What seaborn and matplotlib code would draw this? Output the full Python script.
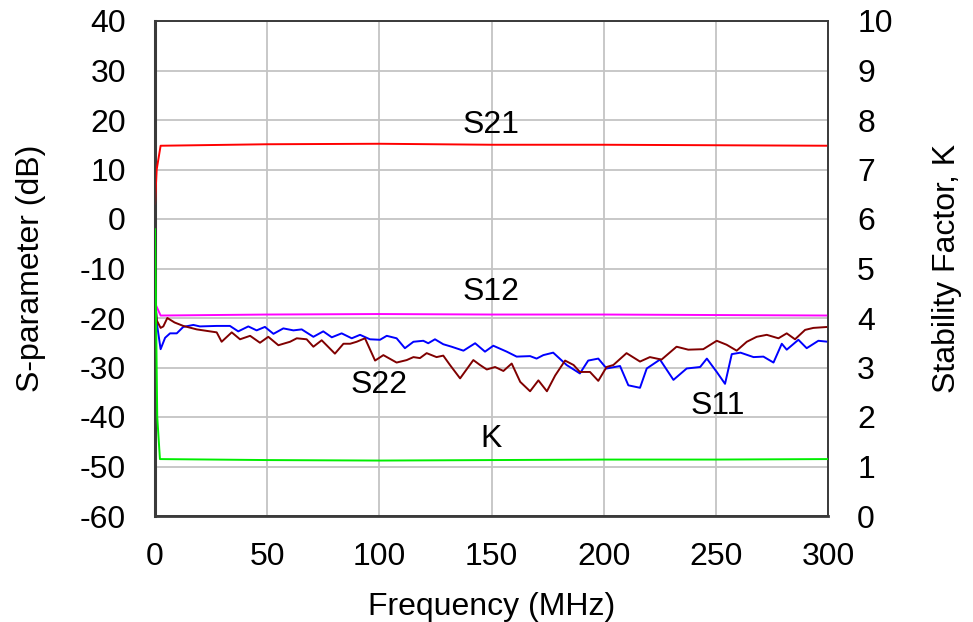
import matplotlib
matplotlib.use("Agg")
import matplotlib.pyplot as plt
import seaborn as sns
import pandas as pd

# ---------------- data ----------------
s21_f = [0, 0.75, 2.5, 50, 100, 150, 200, 250, 300]
s21_db = [3, 10, 14.8, 15.1, 15.2, 15.0, 15.0, 14.9, 14.8]

s12_f = [0, 2.5, 50, 100, 150, 200, 250, 300]
s12_db = [-17, -19.5, -19.3, -19.2, -19.3, -19.3, -19.4, -19.5]

s11_f = [0, 0.8, 2.5, 4.5, 6.7, 9.7, 12.6, 17.1, 20, 27.5, 33.4, 37.1, 41.6, 45.3, 49,
         52.8, 57.2, 61.7, 65.4, 70.6, 75, 78.8, 83.2, 87.7, 91.4, 95.8, 100.3, 103.3,
         107.7, 111.4, 115.2, 119.6, 121.8, 124.8, 128.5, 132.2, 137.5, 142.7, 147.1,
         150.8, 156.8, 161.2, 167.2, 170.1, 173.1, 177.5, 183.5, 189.4, 193.1, 197.6,
         201.3, 207.3, 211, 216.2, 219.2, 225.1, 231.1, 237, 243, 246, 250.4, 254.1,
         257.1, 261, 266.8, 271.2, 275.7, 279.4, 281.6, 286.8, 290.5, 295.7, 300]
s11_db = [-15, -21, -26.3, -24, -23.1, -23.1, -21.8, -21.4, -21.7, -21.6, -21.6, -22.7,
          -21.7, -22.5, -21.8, -23.2, -22.1, -22.5, -22.3, -23.8, -22.7, -23.9, -23.1,
          -24.1, -23.4, -24.3, -24.4, -23.6, -24.1, -26.1, -24.8, -24.6, -25.1, -24.3,
          -25.3, -25.8, -26.6, -25.1, -26.8, -25.6, -26.8, -27.8, -27.7, -28.2, -27.5,
          -27.0, -29.5, -31.2, -28.6, -28.2, -30.2, -29.7, -33.6, -34.1, -30.2, -28.4,
          -32.5, -30.2, -29.9, -28.2, -30.9, -33.3, -27.3, -27.0, -27.9, -27.8, -29.0,
          -25.2, -26.4, -24.4, -26.1, -24.6, -24.8]

s22_f = [0, 0.8, 2.5, 3.7, 5.5, 8.7, 12.6, 18.6, 24.5, 27.5, 29.7, 34.2, 37.9, 42.4,
         46.8, 50.5, 55, 60.2, 63.2, 67.6, 70.6, 74.3, 80.2, 84, 87, 89.9, 93.6, 98.1,
         101.8, 107.7, 112.2, 115.2, 118.1, 121.1, 125.5, 128.5, 131.5, 136, 141.9,
         144.9, 147.9, 151.6, 155.3, 159, 162.8, 167.2, 170.9, 174.7, 178.4, 182.8,
         186.6, 189.4, 193.9, 197.6, 201.3, 204.3, 210.2, 216.2, 220.6, 225.8, 232.5,
         237.7, 244.4, 250.4, 254.8, 259.3, 263.8, 268.2, 272.7, 277.9, 281.6, 285.3,
         289.8, 293.5, 300]
s22_db = [-16, -20.5, -22.0, -21.7, -20.0, -20.9, -21.6, -22.3, -22.7, -22.9, -24.8,
          -22.9, -24.3, -23.6, -25.0, -23.8, -25.5, -24.8, -24.1, -24.3, -25.8, -24.5,
          -27.2, -25.2, -25.2, -24.8, -24.1, -28.6, -27.5, -29.0, -28.5, -27.9, -28.1,
          -27.1, -27.9, -27.6, -29.5, -32.2, -28.5, -29.5, -30.4, -29.9, -30.7, -29.2,
          -32.9, -34.8, -32.6, -34.8, -31.6, -28.6, -29.5, -30.9, -30.9, -32.7, -29.9,
          -29.5, -27.1, -28.8, -27.9, -28.4, -25.8, -26.4, -26.3, -24.6, -25.4, -26.6,
          -24.8, -23.8, -23.4, -24.1, -23.1, -24.3, -22.4, -22.0, -21.8]

k_f = [0, 1, 2.2, 50, 100, 150, 200, 250, 300]
k_val = [5.8, 2.0, 1.15, 1.13, 1.12, 1.13, 1.14, 1.14, 1.15]

x_ticks = [0, 50, 100, 150, 200, 250, 300]
y_ticks = [-60, -50, -40, -30, -20, -10, 0, 10, 20, 30, 40]
k_ticks = [0, 1, 2, 3, 4, 5, 6, 7, 8, 9, 10]

labels = ["S21", "S12", "S22", "S11", "K"]
label_f = [150, 150, 100, 251, 150]
label_db = [19.0, -14.8, -33.6, -37.7, -44.4]

# ---------------- style ----------------
sns.set_style("white")
plt.rcParams["font.family"] = ["Liberation Sans", "DejaVu Sans"]
FS = 23

fig = plt.figure(figsize=(9.73, 6.22), dpi=100)
ax = fig.add_axes([155 / 973, 1 - 516 / 622, (828 - 155) / 973, (516 - 21) / 622])
ax2 = ax.twinx()

lw = 1.4
series = [
    (s21_f, s21_db, "#ff0000"),
    (s12_f, s12_db, "#ff00ff"),
    (s11_f, s11_db, "#0000ff"),
    (s22_f, s22_db, "#800000"),
]
for f, v, c in series:
    df = pd.DataFrame({"f": f, "v": v})
    sns.lineplot(data=df, x="f", y="v", ax=ax, color=c, lw=lw, sort=False,
                 estimator=None, zorder=3)
dfk = pd.DataFrame({"f": k_f, "k": k_val})
sns.lineplot(data=dfk, x="f", y="k", ax=ax2, color="#00ee00", lw=lw, sort=False,
             estimator=None, zorder=3)

ax.set_xlim(0, 300)
ax.set_ylim(-60, 40)
ax2.set_ylim(0, 10)
ax.set_xticks(x_ticks)
ax.set_yticks(y_ticks)
ax2.set_yticks(k_ticks)
ax.set_xticklabels([str(t) for t in x_ticks])
ax.set_yticklabels([str(t) for t in y_ticks])
ax2.set_yticklabels([str(t) for t in k_ticks])

ax.grid(True, color="#c4c4c4", lw=1.3, zorder=0)
ax2.grid(False)
ax.set_axisbelow(True)

for a in (ax, ax2):
    a.tick_params(axis="both", length=0, labelsize=FS, colors="black")
    for s in a.spines.values():
        s.set_color("#3a3a3a")
        s.set_linewidth(1.2)
ax.tick_params(axis="y", pad=21)
ax.tick_params(axis="x", pad=19)
ax2.tick_params(axis="y", pad=21)
ax.spines["left"].set_linewidth(2.2)
ax.spines["bottom"].set_linewidth(2.0)

ax.set_xlabel("Frequency (MHz)", fontsize=FS, labelpad=14, color="black")
ax.set_ylabel("S-parameter (dB)", fontsize=FS, labelpad=24, color="black")
ax2.set_ylabel("Stability Factor, K", fontsize=FS, labelpad=28, color="black")

for t, fx, fy in zip(labels, label_f, label_db):
    ax.text(fx, fy, t, fontsize=FS, ha="center", va="center", color="black", zorder=4)

fig.savefig("out.png", dpi=100)
